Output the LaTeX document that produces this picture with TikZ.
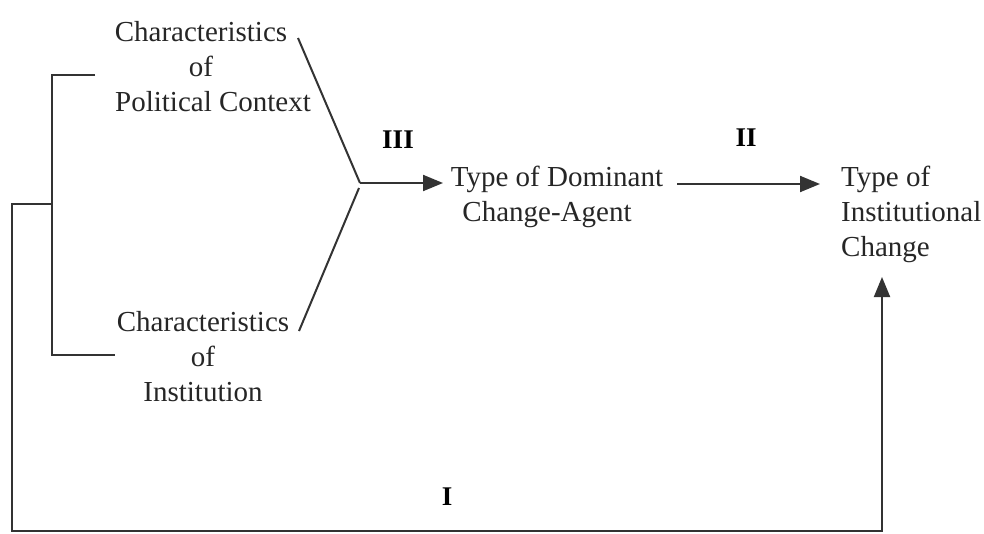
\documentclass[tikz,border=0pt]{standalone}
\usepackage{fontspec}
\setmainfont{Liberation Serif}
\usetikzlibrary{arrows.meta}
\begin{document}
\begin{tikzpicture}[x=1pt,y=-1pt,
  txt/.style={inner sep=0pt,font=\fontsize{29}{35}\selectfont,text=black!85},
  lbl/.style={inner sep=0pt,font=\fontsize{27}{32}\selectfont\bfseries},
  ln/.style={line width=2pt,draw=black!80},
  arr/.style={ln,-{Triangle[length=20pt,width=16pt]}}]
\useasboundingbox[fill=white] (0,0) rectangle (984,533);
% text nodes
\node[txt,align=center] (pc) at (201,67) {Characteristics\\of\\\hspace*{24pt}Political Context};
\node[txt,align=center] (ci) at (203,357) {Characteristics\\of\\Institution};
\node[txt,align=center] (da) at (557,197) {Type of Dominant\\Change-Agent\hspace*{20pt}};
\node[txt,align=left,anchor=west] (ic) at (841,214) {Type of\\Institutional\\Change};
\node[lbl] (l3) at (398,140) {III};
\node[lbl] (l2) at (746,138) {II};
\node[lbl] (l1) at (447,497) {I};
% coordinates
\coordinate (pcEnd) at (298,38);
\coordinate (ciEnd) at (299,331);
\coordinate (j) at (360,183);
\coordinate (j2) at (359,188);
\coordinate (daIn) at (443,183);
\coordinate (daOut) at (677,184);
\coordinate (icIn) at (820,184);
\coordinate (icUp) at (882,277);
\coordinate (bt) at (95,75);
\coordinate (bb) at (115,355);
\coordinate (bm) at (52,204);
% connectors
\draw[ln] (pcEnd) -- (j);
\draw[ln] (ciEnd) -- (j2);
\draw[arr] (j) -- (daIn);
\draw[arr] (daOut) -- (icIn);
\draw[ln] (bt) -| (bm) |- (bb);
\draw[arr] (bm) -- (12,204) |- (882,531) -- (icUp);
\end{tikzpicture}
\end{document}
